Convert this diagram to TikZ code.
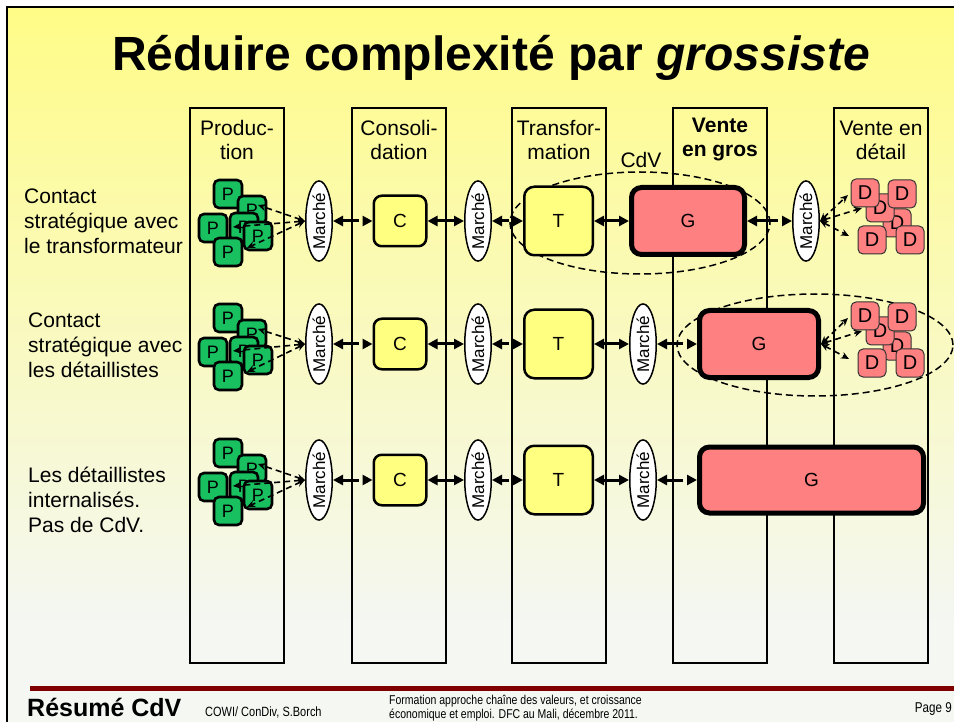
\documentclass[tikz,border=0pt]{standalone}
\usepackage{fontspec}
\usepackage{graphicx}
\setmainfont{Liberation Sans}
\usetikzlibrary{shapes.geometric,arrows.meta}
\definecolor{pgreen}{RGB}{24,192,96}
\definecolor{gpink}{RGB}{255,128,128}
\definecolor{cyel}{RGB}{255,255,128}
\definecolor{bgtop}{RGB}{255,252,135}
\definecolor{bgmid}{RGB}{251,250,188}
\definecolor{bgbot}{RGB}{244,247,242}
\definecolor{footred}{RGB}{128,0,0}
\tikzset{
 colbox/.style={draw, line width=1.3pt, minimum width=94pt, minimum height=555pt, inner sep=0},
 hdr/.style={align=center, font=\fontsize{21}{24}\selectfont, inner sep=0},
 rowlab/.style={align=left, anchor=west, font=\fontsize{21}{25}\selectfont, inner sep=0},
 mkt/.style={ellipse, draw, fill=white, line width=1.5pt, minimum width=26.5pt, minimum height=70pt, inner sep=0, font=\fontsize{17}{17}\selectfont},
 cbx/.style={draw, fill=cyel, line width=2.5pt, rounded corners=8pt, minimum width=52.5pt, minimum height=50.5pt, font=\fontsize{19}{19}\selectfont},
 tbx/.style={cbx, rounded corners=10pt, minimum width=68.5pt, minimum height=68.5pt},
 gbx/.style={draw, fill=gpink, line width=5pt, rounded corners=10pt, minimum height=67pt, font=\fontsize{19}{19}\selectfont},
 pbx/.style={draw, fill=pgreen, line width=2.6pt, rounded corners=5pt, minimum size=28pt, inner sep=0, font=\fontsize{18}{18}\selectfont},
 dbx/.style={draw=black!80, fill=gpink, line width=1pt, rounded corners=5pt, minimum size=28pt, inner sep=0, font=\fontsize{20}{20}\selectfont},
 bi/.style={line width=3pt, {Triangle[length=10pt,width=10pt]}-{Triangle[length=10pt,width=10pt]}},
 lt/.style={line width=3pt, {Triangle[length=10pt,width=10pt]}-},
 rt/.style={line width=3pt, -{Triangle[length=10pt,width=10pt]}},
 dsh/.style={line width=1.6pt, dash pattern=on 6pt off 4pt, {Stealth[length=8pt,width=7pt]}-{Stealth[length=8pt,width=7pt]}},
 cdvell/.style={ellipse, draw, line width=1.5pt, dash pattern=on 7pt off 4pt, inner sep=0},
 foot/.style={inner sep=0, anchor=west},
}
\newcommand\pclus[3]{%
\begin{scope}[shift={(#2,#3)}]
\node[pbx] (#1a) at (-12,-27) {P};
\node[pbx] (#1b) at (12,-11) {P};
\node[pbx] (#1d) at (4,6) {P};
\node[pbx] (#1c) at (-27,7) {P};
\node[pbx] (#1e) at (18,15) {P};
\node[pbx] (#1f) at (-12,31) {P};
\coordinate (#1t1) at (18,-16);
\coordinate (#1t2) at (-7,6);
\coordinate (#1t3) at (7,27);
\end{scope}}
\newcommand\dclus[3]{%
\begin{scope}[shift={(#2,#3)}]
\node[dbx] (#1d) at (10,2) {D};
\node[dbx] (#1c) at (-7,-13) {D};
\node[dbx] (#1a) at (-22,-28) {D};
\node[dbx] (#1b) at (15,-27) {D};
\node[dbx] (#1e) at (-15,19) {D};
\node[dbx] (#1f) at (23,19) {D};
\coordinate (#1s1) at (-39,-26);
\coordinate (#1s2) at (-25,-13);
\coordinate (#1s3) at (-38,15);
\end{scope}}
\newcommand\mk{\rotatebox{90}{Marché}}
\begin{document}
\begin{tikzpicture}[x=1pt,y=-1pt]
\useasboundingbox (0,0) rectangle (954,722);
\clip (0,0) rectangle (954,722);
% background
\fill[white] (0,0) rectangle (954,722);
\fill[bgbot] (7,7) rectangle (970,740);
\shade[top color=bgtop, middle color=bgmid, bottom color=bgbot] (7,7) rectangle (970,620);
\draw[line width=2.5pt] (7,7) rectangle (970,740);
% title
\node[inner sep=0, font=\fontsize{48}{48}\selectfont\bfseries] (title) at (491,58) {Réduire complexité par \textit{grossiste}};
% columns
\node[colbox] (col1) at (237,385.5) {};
\node[colbox] (col2) at (399,385.5) {};
\node[colbox] (col3) at (559,385.5) {};
\node[colbox] (col4) at (720,385.5) {};
\node[colbox] (col5) at (881,385.5) {};
\node[hdr] (h1) at (237,140) {Produc-\\tion};
\node[hdr] (h2) at (399,140) {Consoli-\\dation};
\node[hdr] (h3) at (559,140) {Transfor-\\mation};
\node[hdr, font=\fontsize{21}{24}\selectfont\bfseries] (h4) at (720,140) {Vente\\en gros};
\node[hdr] (h5) at (881,140) {Vente en\\détail};
\node[inner sep=0, font=\fontsize{21}{21}\selectfont] (cdv) at (641,160) {CdV};
% row labels
\node[rowlab] (l1) at (24,221) {Contact\\stratégique avec\\le transformateur};
\node[rowlab] (l2) at (28,345) {Contact\\stratégique avec\\les détaillistes};
\node[rowlab] (l3) at (28,500) {Les détaillistes\\internalisés.\\Pas de CdV.};
% ellipses
\node[cdvell, minimum width=260pt, minimum height=102pt] (e1) at (640,223) {};
\node[cdvell, minimum width=276pt, minimum height=102pt] (e2) at (815,345) {};
% row 1
\pclus{pa}{240}{221}
\node[mkt] (m11) at (319,221) {\mk};
\node[cbx] (c1) at (400,221) {C};
\node[mkt] (m12) at (478,221) {\mk};
\node[tbx] (t1) at (558.5,221) {T};
\node[gbx, minimum width=113pt] (g1) at (688,221) {G};
\node[mkt] (m14) at (806,221) {\mk};
\dclus{da}{887}{221}
% row 2
\pclus{pb}{240}{345}
\node[mkt] (m21) at (319,344) {\mk};
\node[cbx] (c2) at (400,344) {C};
\node[mkt] (m22) at (478,344) {\mk};
\node[tbx] (t2) at (558.5,344) {T};
\node[mkt] (m23) at (643,344) {\mk};
\node[gbx, minimum width=119pt] (g2) at (759,344) {G};
\dclus{db}{887}{344}
% row 3
\pclus{pc}{240}{480}
\node[mkt] (m31) at (319,480) {\mk};
\node[cbx] (c3) at (400,480) {C};
\node[mkt] (m32) at (478,480) {\mk};
\node[tbx] (t3) at (558.5,480) {T};
\node[mkt] (m33) at (643,480) {\mk};
\node[gbx, minimum width=224pt, minimum height=66pt] (g3) at (811.5,480) {G};
% arrows row 1
\foreach \t in {pat1,pat2,pat3} \draw[dsh] (m11.west) -- (\t);
\draw[lt] (m11.east) -- ([xshift=-14pt]c1.west);
\draw[rt] ([xshift=-10pt]c1.west) -- (c1.west);
\draw[bi] (c1.east) -- (m12.west);
\draw[lt] (m12.east) -- ([xshift=-14pt]t1.west);
\draw[rt] ([xshift=-10pt]t1.west) -- (t1.west);
\draw[bi] (t1.east) -- (g1.west);
\draw[lt] (g1.east) -- ([xshift=-14pt]m14.west);
\draw[rt] ([xshift=-10pt]m14.west) -- (m14.west);
\foreach \t in {das1,das2,das3} \draw[dsh] (m14.east) -- (\t);
% arrows row 2
\foreach \t in {pbt1,pbt2,pbt3} \draw[dsh] (m21.west) -- (\t);
\draw[lt] (m21.east) -- ([xshift=-14pt]c2.west);
\draw[rt] ([xshift=-10pt]c2.west) -- (c2.west);
\draw[bi] (c2.east) -- (m22.west);
\draw[lt] (m22.east) -- ([xshift=-14pt]t2.west);
\draw[rt] ([xshift=-10pt]t2.west) -- (t2.west);
\draw[bi] (t2.east) -- (m23.west);
\draw[lt] (m23.east) -- ([xshift=-14pt]g2.west);
\draw[rt] ([xshift=-10pt]g2.west) -- (g2.west);
\foreach \t in {dbs1,dbs2,dbs3} \draw[dsh] (g2.east) -- (\t);
% arrows row 3
\foreach \t in {pct1,pct2,pct3} \draw[dsh] (m31.west) -- (\t);
\draw[lt] (m31.east) -- ([xshift=-14pt]c3.west);
\draw[rt] ([xshift=-10pt]c3.west) -- (c3.west);
\draw[bi] (c3.east) -- (m32.west);
\draw[lt] (m32.east) -- ([xshift=-14pt]t3.west);
\draw[rt] ([xshift=-10pt]t3.west) -- (t3.west);
\draw[bi] (t3.east) -- (m33.west);
\draw[lt] (m33.east) -- ([xshift=-14pt]g3.west);
\draw[rt] ([xshift=-10pt]g3.west) -- (g3.west);
% footer
\coordinate (fl) at (30,688);
\coordinate (fr) at (954,688);
\draw[line width=5pt, footred] (fl) -- (fr);
\node[foot, font=\fontsize{25}{25}\selectfont\bfseries] (res) at (27,707) {Résumé CdV};
\node[foot, font=\fontsize{13.4}{14}\selectfont] (cowi) at (205,712) {\scalebox{0.82}[1]{COWI/ ConDiv, S.Borch}};
\node[foot, align=left, font=\fontsize{12.8}{14}\selectfont] (form) at (389,708) {\scalebox{0.82}[1]{Formation approche chaîne des valeurs, et croissance}\\\scalebox{0.82}[1]{économique et emploi. DFC au Mali, décembre 2011.}};
\node[inner sep=0, anchor=east, font=\fontsize{14.2}{15}\selectfont] (page) at (952,709) {\scalebox{0.82}[1]{Page 9}};
\end{tikzpicture}
\end{document}
